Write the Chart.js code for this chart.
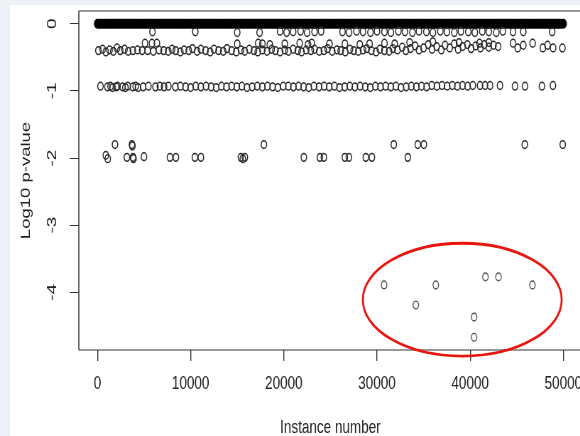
<!DOCTYPE html>
<html>
<head>
<meta charset="utf-8">
<script src="https://cdn.jsdelivr.net/npm/chart.js@4.4.1/dist/chart.umd.min.js"></script>
<style>
  html, body { margin: 0; padding: 0; width: 580px; height: 436px; overflow: hidden; background: #edf0f4; }
  #paper { position: absolute; left: 10px; top: 5px; width: 570px; height: 431px; background: #fff; }
  /* the reference plot is squeezed horizontally, so draw wide and squeeze */
  #wrap { position: absolute; left: 0; top: 0; width: 830px; height: 436px; transform: scaleX(0.71); transform-origin: 0 0; }
</style>
</head>
<body>
<div id="paper"></div>
<div id="wrap"><canvas id="chart"></canvas></div>
<script>
// axis setup
const xTicks = [0, 10000, 20000, 30000, 40000, 50000];
const yTicks = [0, -1, -2, -3, -4];
const xRange = [-2000, 52000];
const yRange = [-4.86, 0.19];

// instances with p = 1 (log10 = 0), the solid band at the top
const zeroRowX = [0, 330, 680, 1000, 1360, 1700, 2030, 2380, 2700, 3060, 3400, 3730, 4080, 4400, 4760, 5100, 5430, 5780, 6100, 6460,
  6800, 7130, 7480, 7800, 8160, 8500, 8830, 9180, 9500, 9860, 10200, 10530, 10880, 11200, 11560, 11900, 12230, 12580, 12900, 13260,
  13600, 13930, 14280, 14600, 14960, 15300, 15630, 15980, 16300, 16660, 17000, 17330, 17680, 18000, 18360, 18700, 19030, 19380, 19700, 20060,
  20400, 20730, 21080, 21400, 21760, 22100, 22430, 22780, 23100, 23460, 23800, 24130, 24480, 24800, 25160, 25500, 25830, 26180, 26500, 26860,
  27200, 27530, 27880, 28200, 28560, 28900, 29230, 29580, 29900, 30260, 30600, 30930, 31280, 31600, 31960, 32300, 32630, 32980, 33300, 33660,
  34000, 34330, 34680, 35000, 35360, 35700, 36030, 36380, 36700, 37060, 37400, 37730, 38080, 38400, 38760, 39100, 39430, 39780, 40100, 40460,
  40800, 41130, 41480, 41800, 42160, 42500, 42830, 43180, 43500, 43860, 44200, 44530, 44880, 45200, 45560, 45900, 46230, 46580, 46900, 47260,
  47600, 47930, 48280, 48600, 48960, 49300, 49630, 50000,
  160, 500, 840, 1180, 1530, 1860, 2200, 2540, 2880, 3230, 3560, 3900, 4240, 4580, 4930, 5260, 5610, 5940, 6280, 6630,
  6960, 7310, 7640, 7980, 8330, 8660, 9010, 9340, 9690, 10030, 10360, 10710, 11040, 11380, 11730, 12060, 12410, 12740, 13080, 13430,
  13760, 14110, 14440, 14780, 15130, 15460, 15810, 16140, 16480, 16830, 17160, 17510, 17840, 18180, 18530, 18860, 19210, 19540, 19880, 20230,
  20560, 20910, 21240, 21580, 21930, 22260, 22610, 22940, 23280, 23630, 23960, 24310, 24640, 24980, 25330, 25660, 26010, 26340, 26680, 27030,
  27360, 27710, 28040, 28380, 28730, 29060, 29410, 29740, 30080, 30430, 30760, 31110, 31440, 31780, 32130, 32460, 32810, 33140, 33480, 33830,
  34160, 34510, 34840, 35180, 35530, 35860, 36210, 36540, 36880, 37230, 37560, 37910, 38240, 38580, 38930, 39260, 39610, 39940, 40280, 40630,
  40960, 41310, 41640, 41980, 42330, 42660, 43010, 43340, 43680, 44030, 44360, 44710, 45040, 45380, 45730, 46060, 46410, 46740, 47080, 47430,
  47760, 48110, 48440, 48780, 49130, 49460, 49810];

// [instance, log10 p]
const nearZero = [[5900,-0.12],[10500,-0.12],[15000,-0.13],[17400,-0.13],[19600,-0.11],[20300,-0.13],[21000,-0.12],[21800,-0.11],
  [22500,-0.13],[23300,-0.12],[24000,-0.11],[26300,-0.12],[27000,-0.13],[27800,-0.11],[28500,-0.12],[29300,-0.13],[30000,-0.11],
  [30800,-0.12],[31500,-0.13],[32300,-0.11],[33000,-0.12],[33800,-0.13],[34500,-0.11],[35300,-0.12],[36000,-0.13],[36800,-0.11],
  [37500,-0.12],[38300,-0.13],[39000,-0.11],[39800,-0.12],[40500,-0.13],[41300,-0.11],[42000,-0.12],[42800,-0.13],[43500,-0.11],
  [44600,-0.12],[45700,-0.12],[48800,-0.12]];

const midBand = [[100,-0.40],[550,-0.38],[900,-0.42],[1300,-0.39],[1700,-0.41],[2100,-0.36],[2450,-0.40],[2900,-0.38],[3300,-0.41],
  [3800,-0.40],[4300,-0.39],[4800,-0.40],[5100,-0.29],[5400,-0.40],[5850,-0.29],[6000,-0.41],[6380,-0.29],[6600,-0.39],[7100,-0.40],
  [7600,-0.41],[8000,-0.38],[8400,-0.40],[8900,-0.42],[9300,-0.39],[9800,-0.40],[10200,-0.37],[10700,-0.41],[11100,-0.38],
  [11600,-0.40],[12100,-0.42],[12500,-0.38],[13000,-0.40],[13500,-0.41],[13900,-0.37],[14400,-0.40],[14900,-0.42],[15000,-0.30],
  [15400,-0.39],[15800,-0.41],[16300,-0.38],[16800,-0.40],[17200,-0.42],[17250,-0.29],[17700,-0.30],[17700,-0.39],[18200,-0.41],
  [18500,-0.31],[18700,-0.38],[19100,-0.40],[19600,-0.42],[20100,-0.30],[20100,-0.39],[20500,-0.41],[21000,-0.38],[21500,-0.40],
  [21700,-0.29],[21900,-0.42],[22400,-0.39],[22600,-0.31],[22900,-0.40],[23000,-0.29],[23300,-0.38],[23800,-0.41],[24300,-0.40],
  [24700,-0.37],[24900,-0.30],[25200,-0.41],[25700,-0.39],[26100,-0.40],[26550,-0.30],[26600,-0.42],[27100,-0.38],[27500,-0.40],
  [28000,-0.41],[28150,-0.31],[28500,-0.39],[28900,-0.37],[29200,-0.30],[29400,-0.40],[29900,-0.42],[30300,-0.38],[30800,-0.29],
  [30800,-0.40],[31300,-0.41],[31700,-0.37],[31900,-0.30],[32200,-0.39],[32700,-0.35],[33100,-0.40],[33500,-0.28],[33600,-0.37],
  [34100,-0.33],[34500,-0.39],[35000,-0.36],[35500,-0.31],[35900,-0.38],[36000,-0.27],[36400,-0.34],[36900,-0.39],[37300,-0.32],
  [37800,-0.36],[38300,-0.30],[38700,-0.38],[38800,-0.28],[39200,-0.34],[39700,-0.31],[40100,-0.37],[40600,-0.33],[41000,-0.29],
  [41100,-0.36],[41500,-0.31],[42000,-0.28],[42000,-0.35],[42500,-0.32],[43000,-0.34],[44600,-0.29],[45100,-0.36],[45700,-0.32],
  [46700,-0.29],[47800,-0.36],[48300,-0.32],[48900,-0.36],[49900,-0.36]];

const rowOne = [[320,-0.93],[1070,-0.94],[1400,-0.93],[1600,-0.95],[2000,-0.94],[2150,-0.93],[2700,-0.94],[3000,-0.95],[3250,-0.93],
  [3800,-0.94],[4100,-0.93],[4350,-0.95],[4900,-0.94],[5470,-0.93],[6220,-0.94],[6700,-0.93],[7150,-0.94],[7610,-0.93],[8360,-0.94],
  [8900,-0.93],[9450,-0.94],[10000,-0.95],[10550,-0.93],[11100,-0.94],[11650,-0.93],[12200,-0.94],[12750,-0.95],[13300,-0.93],
  [13850,-0.94],[14400,-0.93],[14950,-0.94],[15500,-0.93],[16050,-0.95],[16600,-0.94],[17150,-0.93],[17700,-0.94],[18250,-0.93],
  [18800,-0.94],[19350,-0.95],[19940,-0.93],[20480,-0.93],[21030,-0.94],[21580,-0.93],[22130,-0.94],[22680,-0.95],[23230,-0.93],
  [23780,-0.94],[24330,-0.93],[24880,-0.94],[25430,-0.93],[25980,-0.95],[26530,-0.94],[27080,-0.93],[27630,-0.94],[28180,-0.93],
  [28730,-0.94],[29280,-0.95],[29830,-0.93],[30380,-0.94],[30930,-0.93],[31480,-0.94],[32030,-0.93],[32580,-0.95],[33130,-0.94],
  [33680,-0.93],[34230,-0.94],[34780,-0.93],[35330,-0.94],[35880,-0.92],[36430,-0.93],[36980,-0.92],[37530,-0.93],[38080,-0.92],
  [38630,-0.93],[39180,-0.92],[39730,-0.93],[40280,-0.92],[41060,-0.92],[41590,-0.92],[42130,-0.92],[43200,-0.92],[44810,-0.93],
  [45880,-0.93],[47700,-0.93],[48880,-0.92]];

const rowTwo = [[900,-1.96],[1100,-2.01],[1880,-1.80],[3160,-1.99],[3700,-1.80],[3750,-1.82],[3810,-1.99],[3870,-2.01],[4990,-1.98],
  [7780,-1.99],[8420,-1.99],[10460,-1.99],[11100,-1.99],[15390,-1.99],[15600,-2.01],[15820,-1.99],[17860,-1.80],[22150,-1.99],
  [23870,-1.99],[24300,-1.99],[26550,-1.99],[26980,-1.99],[28800,-1.99],[29450,-1.99],[31800,-1.80],[33310,-1.99],[34380,-1.80],
  [35030,-1.80],[45860,-1.80],[49930,-1.80]];

const outliers = [[30760,-3.89],[34170,-4.19],[36310,-3.89],[40420,-4.37],[40420,-4.67],[41640,-3.77],[43040,-3.77],[46680,-3.89]];

// red ellipse drawn round the outliers: centre and radii in data units
const highlightCenter = [39150, -4.11];
const highlightRadii = [10670, 0.84];

const fontFamily = '"Liberation Sans", Arial, Helvetica, sans-serif';

function pts(list) {
  return list.map(p => ({ x: p[0], y: p[1] }));
}

function circles(data, extra) {
  return Object.assign({
    data: data,
    pointStyle: 'circle',
    pointRadius: 3.9,
    borderWidth: 1.5,
    borderColor: '#2a2a2a',
    backgroundColor: 'rgba(0,0,0,0)'
  }, extra || {});
}

// box round the plot region plus the highlight ellipse
const rBox = {
  id: 'rBox',
  afterDraw(chart) {
    const { ctx, chartArea: a, scales: { x, y } } = chart;
    ctx.save();
    ctx.strokeStyle = '#333';
    ctx.lineWidth = 1.1;
    ctx.beginPath();
    ctx.moveTo(a.left, a.top); ctx.lineTo(a.right, a.top);
    ctx.moveTo(a.left, a.bottom); ctx.lineTo(a.right, a.bottom);
    ctx.stroke();
    ctx.lineWidth = 1.5;
    ctx.beginPath();
    ctx.moveTo(a.left, a.top); ctx.lineTo(a.left, a.bottom);
    ctx.moveTo(a.right, a.top); ctx.lineTo(a.right, a.bottom);
    ctx.stroke();

    const cx = x.getPixelForValue(highlightCenter[0]);
    const cy = y.getPixelForValue(highlightCenter[1]);
    const rx = Math.abs(x.getPixelForValue(highlightCenter[0] + highlightRadii[0]) - cx);
    const ry = Math.abs(y.getPixelForValue(highlightCenter[1] + highlightRadii[1]) - cy);
    ctx.strokeStyle = '#e8140e';
    ctx.lineWidth = 2.8;
    ctx.beginPath();
    ctx.ellipse(cx, cy, rx, ry, 0, 0, Math.PI * 2);
    ctx.stroke();
    ctx.restore();
  }
};

new Chart(document.getElementById('chart'), {
  type: 'scatter',
  data: {
    datasets: [
      circles(pts(nearZero)),
      circles(pts(midBand)),
      circles(pts(rowOne)),
      circles(pts(rowTwo)),
      circles(pts(outliers), { borderColor: '#555', borderWidth: 1.4 }),
      // drawn last so it sits over the row just below it
      circles(zeroRowX.map(v => ({ x: v, y: 0 })), { pointRadius: 4.4, borderWidth: 1.2, borderColor: '#000', backgroundColor: '#000' })
    ]
  },
  options: {
    responsive: true,
    maintainAspectRatio: false,
    animation: false,
    events: [],
    layout: { padding: { top: 11, right: 10.3, bottom: 0, left: 0 } },
    plugins: {
      legend: { display: false },
      tooltip: { enabled: false }
    },
    scales: {
      x: {
        type: 'linear',
        min: xRange[0],
        max: xRange[1],
        afterBuildTicks: s => { s.ticks = xTicks.map(v => ({ value: v })); },
        afterFit: s => { s.height = 86; s.paddingLeft = 0; s.paddingRight = 0; },
        border: { display: false },
        grid: { drawOnChartArea: false, drawTicks: true, tickLength: 11, color: '#333', lineWidth: 1.4 },
        ticks: {
          autoSkip: false, maxRotation: 0, padding: 11.7, color: '#222',
          font: { family: fontFamily, size: 19 },
          callback: v => String(v)
        },
        title: {
          display: true, text: 'Instance number', color: '#222',
          font: { family: fontFamily, size: 19, lineHeight: 0.9 },
          padding: { top: 0, bottom: 0 }
        }
      },
      y: {
        type: 'linear',
        min: yRange[0],
        max: yRange[1],
        afterBuildTicks: s => { s.ticks = yTicks.map(v => ({ value: v })); },
        afterFit: s => { s.width = 111; s.paddingTop = 0; s.paddingBottom = 0; },
        border: { display: false },
        grid: { drawOnChartArea: false, drawTicks: true, tickLength: 12.7, color: '#333', lineWidth: 1 },
        ticks: {
          autoSkip: false, minRotation: 90, maxRotation: 90, crossAlign: 'center', padding: 16, color: '#222',
          font: { family: fontFamily, size: 19 },
          callback: v => String(v)
        },
        title: {
          display: true, text: 'Log10 p-value', color: '#222',
          font: { family: fontFamily, size: 18.5, lineHeight: 0.9 },
          padding: { top: 28.5, bottom: 0 }
        }
      }
    }
  },
  plugins: [rBox]
});
</script>
</body>
</html>
